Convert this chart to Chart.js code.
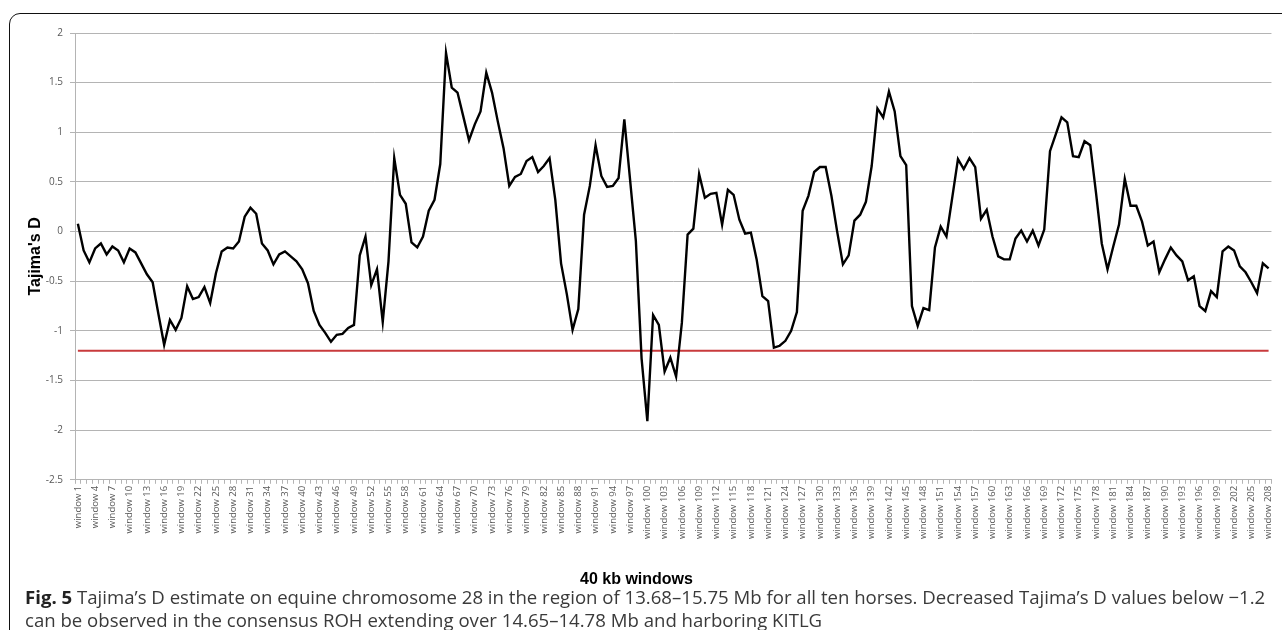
<!DOCTYPE html>
<html>
<head>
<meta charset="utf-8">
<script src="https://cdn.jsdelivr.net/npm/chart.js@4/dist/chart.umd.min.js"></script>
<style>
  html, body { margin: 0; padding: 0; background: #fff; width: 1282px; height: 630px; overflow: hidden; }
  #frame { position: absolute; left: 9px; top: 13px; width: 1320px; height: 700px; border: 1.5px solid #111; border-radius: 11px; box-sizing: border-box; }
  #wrap { position: absolute; left: 0; top: 0; width: 1282px; height: 600px; }
  #caption { position: absolute; left: 25px; top: 585px; font-family: "Open Sans", "Noto Sans", sans-serif; font-size: 18.6px; line-height: 23px; color: #3a3a3a; white-space: nowrap; }
  #caption b { color: #222; }
</style>
</head>
<body>
<div id="frame"></div>
<div id="wrap"><canvas id="c"></canvas></div>
<div id="caption"><b>Fig. 5</b> Tajima’s D estimate on equine chromosome 28 in the region of 13.68–15.75 Mb for all ten horses. Decreased Tajima’s D values below −1.2<br>can be observed in the consensus ROH extending over 14.65–14.78 Mb and harboring KITLG</div>
<script>
// ---- data ----
const windowCount = 208;
const categories = Array.from({length: windowCount}, (_, i) => 'window ' + (i + 1));
const tajimaD = [
   0.08, -0.19, -0.31, -0.17, -0.12, -0.23, -0.15, -0.19, -0.31, -0.17,
  -0.21, -0.32, -0.43, -0.51, -0.83, -1.14, -0.89, -0.99, -0.87, -0.55,
  -0.68, -0.66, -0.56, -0.72, -0.42, -0.20, -0.16, -0.17, -0.10,  0.15,
   0.24,  0.18, -0.12, -0.19, -0.33, -0.23, -0.20, -0.25, -0.30, -0.38,
  -0.52, -0.80, -0.94, -1.02, -1.11, -1.04, -1.03, -0.97, -0.94, -0.24,
  -0.05, -0.54, -0.38, -0.91, -0.30,  0.74,  0.37,  0.28, -0.11, -0.16,
  -0.05,  0.21,  0.32,  0.68,  1.80,  1.45,  1.40,  1.16,  0.92,  1.08,
   1.21,  1.60,  1.40,  1.11,  0.84,  0.46,  0.55,  0.58,  0.71,  0.75,
   0.60,  0.66,  0.74,  0.32, -0.32, -0.63, -0.99, -0.78,  0.17,  0.46,
   0.87,  0.56,  0.45,  0.46,  0.54,  1.13,  0.52, -0.09, -1.28, -1.91,
  -0.84, -0.94, -1.41, -1.27, -1.46, -0.92, -0.03,  0.03,  0.58,  0.34,
   0.38,  0.39,  0.07,  0.42,  0.37,  0.12, -0.02, -0.01, -0.28, -0.65,
  -0.70, -1.17, -1.15, -1.10, -1.00, -0.81,  0.21,  0.36,  0.60,  0.65,
   0.65,  0.36,  0.00, -0.33, -0.24,  0.11,  0.17,  0.30,  0.66,  1.24,
   1.15,  1.41,  1.21,  0.76,  0.67, -0.75, -0.95, -0.77, -0.79, -0.16,
   0.05, -0.05,  0.34,  0.73,  0.63,  0.74,  0.65,  0.13,  0.22, -0.05,
  -0.25, -0.28, -0.28, -0.07,  0.01, -0.10,  0.01, -0.14,  0.02,  0.81,
   0.98,  1.15,  1.10,  0.76,  0.75,  0.91,  0.87,  0.39, -0.12, -0.38,
  -0.15,  0.07,  0.53,  0.26,  0.26,  0.10, -0.14, -0.10, -0.41, -0.28,
  -0.16, -0.24, -0.30, -0.49, -0.45, -0.75, -0.80, -0.60, -0.66, -0.20,
  -0.15, -0.19, -0.35, -0.41, -0.51, -0.62, -0.32, -0.37
];
const threshold = -1.2;
const yMin = -2.5, yMax = 2, yStep = 0.5;
const labelEvery = 3;

const gridColor = '#b4b4b4';
const tickColor = '#595959';

new Chart(document.getElementById('c'), {
  type: 'line',
  data: {
    labels: categories,
    datasets: [
      {
        label: "Tajima's D",
        data: tajimaD,
        borderColor: '#000',
        borderWidth: 2.4,
        pointRadius: 0,
        tension: 0,
        fill: false,
        order: 1
      },
      {
        label: 'threshold',
        data: [{x: categories[0], y: threshold}, {x: categories[categories.length - 1], y: threshold}],
        borderColor: '#c83a3c',
        borderWidth: 2,
        pointRadius: 0,
        tension: 0,
        fill: false,
        order: 2
      }
    ]
  },
  options: {
    responsive: true,
    maintainAspectRatio: false,
    animation: false,
    events: [],
    layout: { padding: { left: 0, right: 9, top: 33, bottom: 0 } },
    plugins: {
      legend: { display: false },
      tooltip: { enabled: false },
      title: {
        display: true,
        position: 'bottom',
        text: '40 kb windows',
        color: '#000',
        font: { family: 'Liberation Sans, Arial, sans-serif', size: 16, weight: 'bold', lineHeight: 1.2 },
        padding: { top: 0, bottom: 11 }
      }
    },
    scales: {
      x: {
        type: 'category',
        offset: true,
        grid: { display: true, drawOnChartArea: false, drawTicks: true, tickLength: 4, offset: true, color: gridColor },
        border: { display: true, color: gridColor },
        ticks: {
          autoSkip: false,
          maxRotation: 90,
          minRotation: 90,
          padding: 2,
          color: tickColor,
          font: { family: 'Open Sans, sans-serif', size: 9.5 },
          callback: function(v, i) { return i % labelEvery === 0 ? categories[i] : ''; }
        },
        afterFit: function(s) { s.height = 90; }
      },
      y: {
        min: yMin,
        max: yMax,
        grid: { color: gridColor, tickLength: 5, lineWidth: 1 },
        border: { display: true, color: gridColor },
        ticks: {
          stepSize: yStep,
          padding: 7,
          color: tickColor,
          font: { family: 'Open Sans, sans-serif', size: 10 },
          callback: function(v) { return String(v); }
        },
        title: {
          display: true,
          text: "Tajima's D",
          color: '#000',
          font: { family: 'Liberation Sans, Arial, sans-serif', size: 16, weight: 'bold', lineHeight: 1.2 },
          padding: { top: 26, bottom: 0 }
        },
        afterFit: function(s) { s.width = 75; }
      }
    }
  }
});
</script>
</body>
</html>
